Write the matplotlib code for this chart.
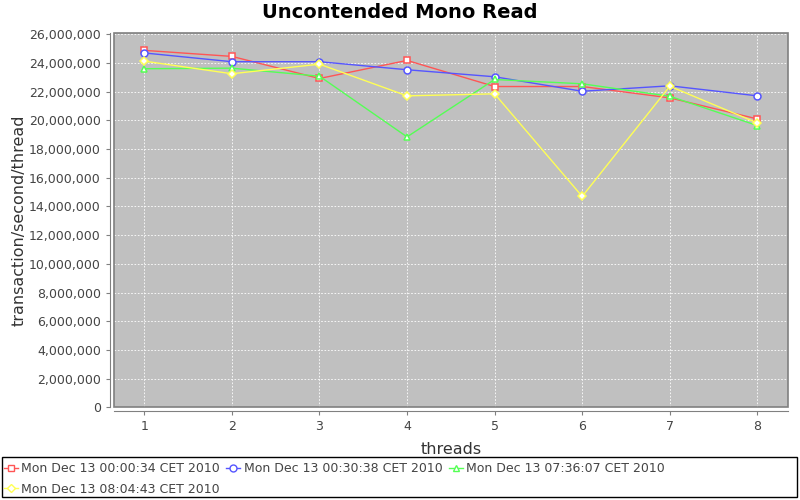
import matplotlib
matplotlib.use("Agg")
import matplotlib.pyplot as plt
from matplotlib.patches import Rectangle
from matplotlib.lines import Line2D
from matplotlib.ticker import FuncFormatter, MultipleLocator

# Data
threads = [1, 2, 3, 4, 5, 6, 7, 8]
run_labels = [
    "Mon Dec 13 00:00:34 CET 2010",
    "Mon Dec 13 00:30:38 CET 2010",
    "Mon Dec 13 07:36:07 CET 2010",
    "Mon Dec 13 08:04:43 CET 2010",
]
run_0000 = [24880000, 24460000, 22920000, 24180000, 22360000, 22360000, 21570000, 20100000]
run_0030 = [24700000, 24090000, 24090000, 23530000, 23040000, 22030000, 22410000, 21710000]
run_0736 = [23600000, 23640000, 23080000, 18850000, 22850000, 22550000, 21680000, 19640000]
run_0804 = [24130000, 23250000, 23920000, 21710000, 21850000, 14700000, 22380000, 19820000]

series = [run_0000, run_0030, run_0736, run_0804]
colors = ["#ff5555", "#5555ff", "#55ff55", "#ffff55"]
markers = ["s", "o", "^", "D"]
msizes = [5, 5, 5, 4]

fig = plt.figure(figsize=(8, 5), dpi=100)
ax = fig.add_axes([0.1425, 0.1854, 0.8425, 0.748])
ax.set_facecolor("#c0c0c0")

for vals, c, m, ms in zip(series, colors, markers, msizes):
    ax.plot(threads, vals, color=c, linewidth=1.0, marker=m, markersize=ms,
            markerfacecolor="white", markeredgecolor=c, markeredgewidth=1.1,
            zorder=3)

ax.set_xlim(0.654, 8.35)
ax.set_ylim(0, 26070000)
ax.xaxis.set_major_locator(MultipleLocator(1))
ax.yaxis.set_major_locator(MultipleLocator(2000000))
ax.yaxis.set_major_formatter(FuncFormatter(lambda v, p: f"{int(v):,}"))

ax.grid(True, color="white", linestyle=(0, (2, 2)), linewidth=0.6)
ax.set_axisbelow(True)

# axes lines offset from the plot, like the original
for side in ["top", "right"]:
    ax.spines[side].set_visible(False)
for side in ["left", "bottom"]:
    ax.spines[side].set_position(("outward", 3))
    ax.spines[side].set_color("#808080")
ax.add_patch(Rectangle((0, 0), 1, 1, transform=ax.transAxes, fill=False,
                       edgecolor="#808080", linewidth=1.2, zorder=5, clip_on=False))

ax.tick_params(axis="both", colors="#808080", labelcolor="#444444",
               labelsize=9, length=3, width=0.8)

ax.set_xlabel("threads", fontsize=11.5, color="#333333", labelpad=6)
ax.set_ylabel("transaction/second/thread", fontsize=11.5, color="#333333", labelpad=2)
fig.suptitle("Uncontended Mono Read", fontsize=14, fontweight="bold", y=0.993)

# legend box across the bottom
fig.patches.append(Rectangle((0.0025, 0.006), 0.994, 0.08, transform=fig.transFigure,
                             fill=False, edgecolor="black", linewidth=1.0))
handles = [Line2D([], [], color=c, marker=m, markersize=ms, markerfacecolor="white",
                  markeredgecolor=c, linewidth=1.0)
           for c, m, ms in zip(colors, markers, msizes)]
order = [0, 3, 1, 2]
fig.legend([handles[i] for i in order], [run_labels[i] for i in order],
           ncol=3, loc="upper left", bbox_to_anchor=(-0.006, 0.093), frameon=False,
           fontsize=9, handlelength=1.1, handletextpad=0.3, columnspacing=0.5,
           labelspacing=0.6, borderpad=0.2, labelcolor="#444444")

fig.savefig("out.png", dpi=100)
